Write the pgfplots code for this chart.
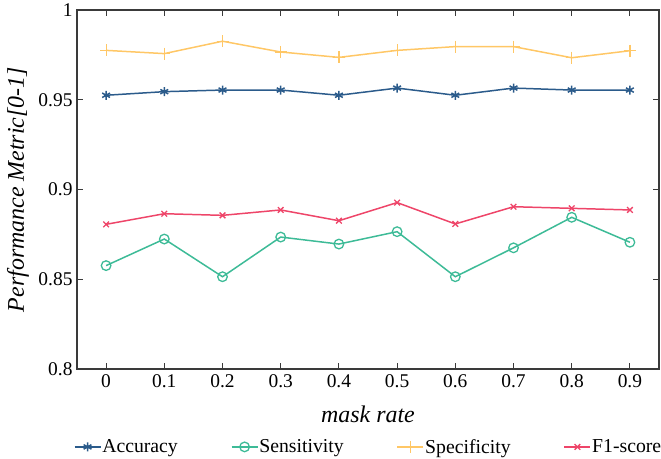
\documentclass[border=0pt]{standalone}
\usepackage{pgfplots}
\pgfplotsset{compat=1.18}
\usepackage{fontspec}
\setmainfont{Liberation Serif}
\definecolor{cAcc}{HTML}{2B5B8B}
\definecolor{cSen}{HTML}{3DBB97}
\definecolor{cSpe}{HTML}{FFC766}
\definecolor{cF1}{HTML}{EE4569}
\definecolor{axgray}{HTML}{3A3A3A}
\begin{document}
\begin{tikzpicture}[x=1bp,y=1bp]
\begin{axis}[
  at={(0,0)}, anchor=south west,
  scale only axis,
  width=582bp, height=359bp,
  xmin=-0.05, xmax=0.95,
  ymin=0.8, ymax=1,
  xtick={0,0.1,0.2,0.3,0.4,0.5,0.6,0.7,0.8,0.9},
  xticklabels={0,0.1,0.2,0.3,0.4,0.5,0.6,0.7,0.8,0.9},
  ytick={0.8,0.85,0.9,0.95,1},
  yticklabels={0.8,0.85,0.9,0.95,1},
  /pgf/number format/assume math mode=true,
  xtick align=inside, ytick align=inside,
  xtick pos=both, ytick pos=both,
  major tick length=6bp,
  axis line style={axgray, line width=1.3pt},
  major tick style={axgray, line width=1.1pt},
  tick label style={font=\fontsize{19.5}{21}\selectfont},
  xticklabel style={yshift=-2bp},
  yticklabel style={xshift=-1bp},
  xlabel={\itshape mask rate},
  ylabel={\itshape Performance Metric[0-1]},
  every axis x label/.style={at={(axis description cs:0.5,-0.1253)}, anchor=center},
  every axis y label/.style={at={(axis description cs:-0.1014,0.5)}, anchor=center, rotate=90},
  label style={font=\fontsize{24}{26}\selectfont},
  legend style={
    at={(axis description cs:0.5,-0.217)}, anchor=center, draw=none, fill=none,
    legend columns=4,
    font=\fontsize{19.8}{21}\selectfont,
    nodes={inner xsep=1bp, inner ysep=2bp},
    /tikz/every even column/.append style={column sep=52bp},
  },
  legend image code/.code={
    \draw[mark repeat=2,mark phase=2] plot coordinates {(0bp,0bp) (13bp,0bp) (26bp,0bp)};
  },
  every axis plot/.append style={line width=1.5pt},
]
\addplot[cAcc, mark=asterisk, mark size=4.5bp, mark options={line width=1.5pt}] coordinates {
(0,0.9525) (0.1,0.9545) (0.2,0.9554) (0.3,0.9554) (0.4,0.9525)
(0.5,0.9565) (0.6,0.9525) (0.7,0.9565) (0.8,0.9554) (0.9,0.9554)};
\addlegendentry{Accuracy}
\addplot[cSen, mark=o, mark size=4.8bp, mark options={line width=1.3pt}] coordinates {
(0,0.8576) (0.1,0.8724) (0.2,0.8514) (0.3,0.8735) (0.4,0.8696)
(0.5,0.8765) (0.6,0.8514) (0.7,0.8675) (0.8,0.8845) (0.9,0.8706)};
\addlegendentry{Sensitivity}
\addplot[cSpe, mark=+, mark size=6bp, mark options={line width=1.2pt}] coordinates {
(0,0.9775) (0.1,0.9757) (0.2,0.9826) (0.3,0.9766) (0.4,0.9736)
(0.5,0.9775) (0.6,0.9796) (0.7,0.9796) (0.8,0.9734) (0.9,0.9773)};
\addlegendentry{Specificity}
\addplot[cF1, mark=x, mark size=4bp, mark options={line width=1.3pt}] coordinates {
(0,0.8806) (0.1,0.8865) (0.2,0.8856) (0.3,0.8886) (0.4,0.8826)
(0.5,0.8927) (0.6,0.8808) (0.7,0.8904) (0.8,0.8895) (0.9,0.8886)};
\addlegendentry{F1-score}
\end{axis}
\pgfresetboundingbox
\path[use as bounding box] (-77,-90) rectangle (584,369);
\end{tikzpicture}
\end{document}
